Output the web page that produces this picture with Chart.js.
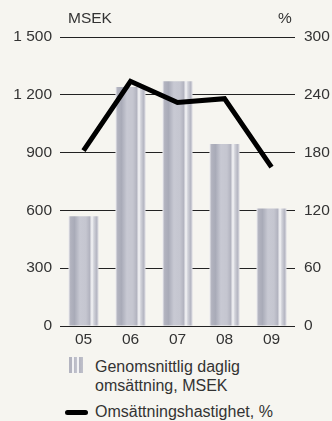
<!DOCTYPE html>
<html>
<head>
<meta charset="utf-8">
<script src="https://cdn.jsdelivr.net/npm/chart.js@4/dist/chart.umd.min.js"></script>
<style>
  html, body { margin:0; padding:0; background:#f6f5f0; }
  body { width:332px; height:421px; position:relative; overflow:hidden; font-family:"Liberation Sans", Arial, sans-serif; color:#333; }
  #wrap { position:absolute; left:0; top:0; width:332px; height:350px; }
  .lbl { position:absolute; font-size:15.5px; line-height:18px; white-space:nowrap; }
  .leg { position:absolute; left:95px; font-size:16px; line-height:19px; white-space:nowrap; }
  .icon-bar { position:absolute; left:69px; top:357px; width:14px; height:16px;
    background:linear-gradient(to right,#b3b4c0 0,#b3b4c0 3px,#f3f3f5 3px,#f3f3f5 5px,#b8b9c4 5px,#c4c5cf 8px,#f3f3f5 8px,#f3f3f5 10px,#b3b4c0 10px,#c0c1cb 14px); }
  .icon-line { position:absolute; left:65px; top:409.5px; width:23px; height:5px; background:#000; border-radius:3px; }
</style>
</head>
<body>
<div id="wrap"><canvas id="c" width="332" height="350"></canvas></div>
<div class="lbl" style="left:68px; top:9px;">MSEK</div>
<div class="lbl" style="left:278px; top:9px;">%</div>
<div class="icon-bar"></div>
<div class="leg" style="top:357px;">Genomsnittlig daglig<br>omsättning, MSEK</div>
<div class="icon-line"></div>
<div class="leg" style="top:402px;">Omsättningshastighet, %</div>
<script>
const categories = ['05','06','07','08','09'];
const turnoverMSEK = [570, 1240, 1270, 945, 610];
const velocityPct = [182, 254, 232, 236, 165];
const leftTicks = [0, 300, 600, 900, 1200, 1500];
const rightTicks = [0, 60, 120, 180, 240, 300];

const BAR_PCT = 0.64;

function barFill(ctx) {
  const ch = ctx.chart;
  const ca = ch.chartArea;
  if (!ca || ctx.dataIndex === undefined || !ch.scales.x) return '#c0c1cb';
  const x = ch.scales.x.getPixelForValue(ctx.dataIndex);
  const w = (ca.right - ca.left) / categories.length * BAR_PCT;
  const g = ch.ctx.createLinearGradient(x - w/2, 0, x + w/2, 0);
  g.addColorStop(0.00, '#ececef');
  g.addColorStop(0.07, '#b2b3bf');
  g.addColorStop(0.20, '#a9abb8');
  g.addColorStop(0.38, '#c8c9d3');
  g.addColorStop(0.58, '#c5c6d0');
  g.addColorStop(0.70, '#b3b4c0');
  g.addColorStop(0.78, '#f6f6f8');
  g.addColorStop(0.84, '#d3d4db');
  g.addColorStop(0.93, '#b6b7c3');
  g.addColorStop(1.00, '#dcdce2');
  return g;
}

const fontTick = { family: '"Liberation Sans", Arial, sans-serif', size: 15.5 };

new Chart(document.getElementById('c'), {
  data: {
    labels: categories,
    datasets: [
      {
        type: 'line',
        data: velocityPct,
        yAxisID: 'y1',
        borderColor: '#000',
        borderWidth: 5,
        pointRadius: 0,
        tension: 0,
        borderJoinStyle: 'miter',
        borderCapStyle: 'butt',
        order: 0
      },
      {
        type: 'bar',
        data: turnoverMSEK,
        yAxisID: 'y',
        backgroundColor: barFill,
        borderWidth: 0,
        categoryPercentage: 1,
        barPercentage: BAR_PCT,
        order: 1
      }
    ]
  },
  options: {
    responsive: false,
    animation: false,
    devicePixelRatio: 1,
    layout: { padding: { top: 37, left: 0, right: 0, bottom: 0 } },
    plugins: { legend: { display: false }, tooltip: { enabled: false } },
    scales: {
      x: {
        offset: true,
        grid: { display: false, drawTicks: false },
        border: { display: false },
        ticks: { color: '#333', font: fontTick, padding: 4 },
        afterFit: s => { s.height = 24; }
      },
      y: {
        position: 'left',
        min: 0, max: 1500,
        afterBuildTicks: s => { s.ticks = leftTicks.map(v => ({ value: v })); },
        grid: { color: '#222', lineWidth: 1, drawTicks: false },
        border: { display: false },
        ticks: {
          color: '#333', font: fontTick, padding: 8,
          callback: v => v >= 1000 ? String(v).replace(/(\d)(\d{3})$/, '$1 $2') : String(v)
        },
        afterFit: s => { s.width = 60; }
      },
      y1: {
        position: 'right',
        min: 0, max: 300,
        afterBuildTicks: s => { s.ticks = rightTicks.map(v => ({ value: v })); },
        grid: { display: false, drawTicks: false },
        border: { display: false },
        ticks: { color: '#333', font: fontTick, padding: 9 },
        afterFit: s => { s.width = 37; }
      }
    }
  }
});
</script>
</body>
</html>
